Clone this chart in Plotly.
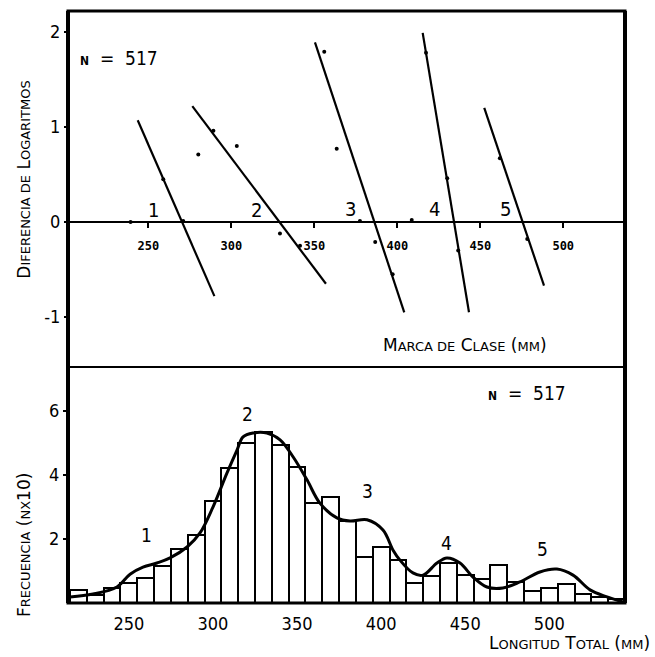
import plotly.graph_objects as go

# ---------------- data ----------------
# Top panel: lines of the log-difference plot (class mark mm, log difference)
line1_x = [243.6, 289.8]; line1_y = [1.07, -0.78]
line2_x = [276.5, 357.0]; line2_y = [1.22, -0.65]
line3_x = [350.4, 404.2]; line3_y = [1.89, -0.95]
line4_x = [415.3, 443.2]; line4_y = [1.99, -0.95]
line5_x = [452.4, 488.4]; line5_y = [1.20, -0.67]
dots_x = [239.3, 259.0, 271.0, 280.1, 289.2, 303.3, 329.3, 341.4, 356.0, 363.5,
          377.5, 386.7, 397.2, 408.7, 417.3, 430.1, 436.7, 461.8, 478.3]
dots_y = [0.0, 0.45, 0.01, 0.71, 0.96, 0.80, -0.12, -0.25, 1.79, 0.77,
          0.01, -0.21, -0.55, 0.02, 1.78, 0.46, -0.30, 0.67, -0.18]
top_ticks = [250, 300, 350, 400, 450, 500]
top_ticktext = ["250", "300", "350", "400", "450", "500"]
top_yticks = [-1, 0, 1, 2]
top_yticktext = ["-1", "0", "1", "2"]
cohort_labels = ["1", "2", "3", "4", "5"]
cohort_top_x = [253.3, 315.3, 371.9, 422.3, 465.3]
cohort_top_y = [0.13, 0.13, 0.14, 0.14, 0.14]

# Bottom panel: histogram (10 mm classes) and fitted curve
bin_centers = [220 + 10 * i for i in range(33)]
freq = [0.41, 0.25, 0.47, 0.62, 0.78, 1.15, 1.69, 2.12, 3.19, 4.22, 5.00, 5.34,
        4.93, 4.25, 3.12, 3.31, 2.55, 1.44, 1.75, 1.34, 0.62, 0.84, 1.24, 0.87,
        0.75, 1.18, 0.66, 0.37, 0.47, 0.59, 0.28, 0.19, 0.13]
curve_x = [215.0, 228.7, 242.9, 250.7, 258.4, 266.7, 274.5, 284.6, 292.3, 300.0,
           308.3, 314.3, 317.9, 323.8, 332.1, 339.9, 347.6, 355.9, 363.6, 373.7,
           381.5, 391.6, 401.1, 407.0, 411.2, 418.9, 424.9, 433.2, 439.1, 446.9,
           454.6, 462.9, 472.4, 482.5, 494.4, 504.5, 514.1, 524.2, 534.3, 543.8]
curve_y = [0.19, 0.28, 0.50, 0.90, 1.12, 1.25, 1.41, 1.75, 2.19, 3.00,
           4.06, 4.78, 5.19, 5.31, 5.31, 5.10, 4.57, 3.85, 3.12, 2.66,
           2.56, 2.60, 2.28, 1.66, 1.34, 0.94, 0.87, 1.25, 1.41, 1.25,
           0.81, 0.50, 0.47, 0.66, 0.97, 1.06, 0.87, 0.41, 0.19, 0.03]
bottom_ticks = [250, 300, 350, 400, 450, 500]
bottom_yticks = [2, 4, 6]
cohort_bot_x = [260.2, 320.8, 391.6, 439.1, 496.2]
cohort_bot_y = [2.13, 5.90, 3.50, 1.88, 1.69]

FONT = "DejaVu Sans Condensed, Liberation Sans Narrow, DejaVu Sans, sans-serif"
TFONT = "DejaVu Sans, sans-serif"
SPLIT = 0.3986

fig = go.Figure()

for lx, ly in [(line1_x, line1_y), (line2_x, line2_y), (line3_x, line3_y),
               (line4_x, line4_y), (line5_x, line5_y)]:
    fig.add_trace(go.Scatter(x=lx, y=ly, mode="lines", line=dict(color="black", width=2.2),
                             xaxis="x", yaxis="y", showlegend=False, hoverinfo="skip"))
fig.add_trace(go.Scatter(x=dots_x, y=dots_y, mode="markers",
                         marker=dict(color="black", size=4), xaxis="x", yaxis="y",
                         showlegend=False))

fig.add_trace(go.Bar(x=bin_centers, y=freq, width=10,
                     marker=dict(color="white", line=dict(color="black", width=2)),
                     xaxis="x2", yaxis="y2", showlegend=False))
fig.add_trace(go.Scatter(x=curve_x, y=curve_y, mode="lines",
                         line=dict(color="black", width=3, shape="spline", smoothing=1.0),
                         xaxis="x2", yaxis="y2", showlegend=False))

annotations = []
for t, x, y in zip(cohort_labels, cohort_top_x, cohort_top_y):
    annotations.append(dict(text=t, x=x, y=y, xref="x", yref="y", showarrow=False,
                            xanchor="center", yanchor="middle",
                            font=dict(family=FONT, size=20, color="black")))
for t, x, y in zip(cohort_labels, cohort_bot_x, cohort_bot_y):
    annotations.append(dict(text=t, x=x, y=y, xref="x2", yref="y2", showarrow=False,
                            xanchor="center", yanchor="middle",
                            font=dict(family=FONT, size=19, color="black")))

n_text = "<span style='font-size:12px'><b>N</b></span>  =  517"
annotations.append(dict(text=n_text, x=232.4, y=1.73, xref="x", yref="y", showarrow=False,
                        xanchor="center", yanchor="middle",
                        font=dict(family=FONT, size=19, color="black")))
annotations.append(dict(text=n_text, x=486.7, y=6.56, xref="x2", yref="y2", showarrow=False,
                        xanchor="center", yanchor="middle",
                        font=dict(family=FONT, size=19, color="black")))

sc = "<span style='font-size:13px'>"
annotations.append(dict(text="D" + sc + "IFERENCIA DE</span> L" + sc + "OGARITMOS</span>",
                        x=-0.079, y=0.715, xref="paper", yref="paper", showarrow=False,
                        xanchor="center", yanchor="middle",
                        textangle=-90, font=dict(family=TFONT, size=17, color="black")))
annotations.append(dict(text="F" + sc + "RECUENCIA</span> (" + sc + "NX</span>10)",
                        x=-0.079, y=0.098, xref="paper", yref="paper", showarrow=False,
                        xanchor="center", yanchor="middle",
                        textangle=-90, font=dict(family=TFONT, size=17, color="black")))
annotations.append(dict(text="M" + sc + "ARCA DE</span> C" + sc + "LASE</span> (" + sc + "MM</span>)",
                        x=0.713, y=0.436, xref="paper", yref="paper", showarrow=False,
                        xanchor="center", yanchor="middle",
                        font=dict(family=TFONT, size=17, color="black")))
annotations.append(dict(text="L" + sc + "ONGITUD</span> T" + sc + "OTAL</span> (" + sc + "MM</span>)",
                        x=1.048, y=-0.068, xref="paper", yref="paper", showarrow=False,
                        xanchor="right", yanchor="middle",
                        font=dict(family=TFONT, size=17, color="black")))

zero_pos = SPLIT + (0 - (-1.526)) / (2.22 + 1.526) * (1 - SPLIT)

fig.update_layout(
    width=655, height=657,
    margin=dict(l=68, r=30, t=11, b=54),
    paper_bgcolor="white", plot_bgcolor="white",
    font=dict(family=FONT, color="black"),
    bargap=0,
    annotations=annotations,
    xaxis=dict(domain=[0, 1], range=[201.6, 537.2], anchor="free", position=zero_pos,
               showline=True, linecolor="black", linewidth=2, showgrid=False, zeroline=False,
               tickvals=top_ticks, ticktext=top_ticktext, ticks="outside", ticklen=5,
               tickwidth=2, tickcolor="black", ticklabelstandoff=8,
               tickfont=dict(family="DejaVu Sans Mono, monospace", size=12, color="black",
                             weight="bold")),
    yaxis=dict(domain=[SPLIT, 1], range=[-1.526, 2.22], anchor="free", position=0,
               showgrid=False, zeroline=False, showline=False,
               tickvals=top_yticks, ticktext=top_yticktext, ticks="outside", ticklen=4,
               tickwidth=2, tickcolor="black",
               tickfont=dict(family=FONT, size=18, color="black")),
    xaxis2=dict(domain=[0, 1], range=[213.8, 545], anchor="y2",
                showline=False, showgrid=False, zeroline=False,
                tickvals=bottom_ticks, ticks="", ticklabelstandoff=8,
                tickfont=dict(family=FONT, size=18, color="black")),
    yaxis2=dict(domain=[0, SPLIT], range=[0, 7.375], anchor="x2",
                showgrid=False, zeroline=False, showline=False,
                tickvals=bottom_yticks, ticks="outside", ticklen=4, tickwidth=2, tickcolor="black",
                tickfont=dict(family=FONT, size=18, color="black")),
    shapes=[
        dict(type="rect", xref="paper", yref="paper", x0=0, x1=1, y0=0, y1=1,
             line=dict(color="black", width=3)),
        dict(type="line", xref="paper", yref="paper", x0=0, x1=1, y0=SPLIT, y1=SPLIT,
             line=dict(color="black", width=2)),
        dict(type="line", xref="paper", yref="paper", x0=0, x1=0, y0=0, y1=1,
             line=dict(color="black", width=4)),
        dict(type="line", xref="paper", yref="paper", x0=1, x1=1, y0=0, y1=1,
             line=dict(color="black", width=4)),
    ],
)

fig.write_html("out.html")
